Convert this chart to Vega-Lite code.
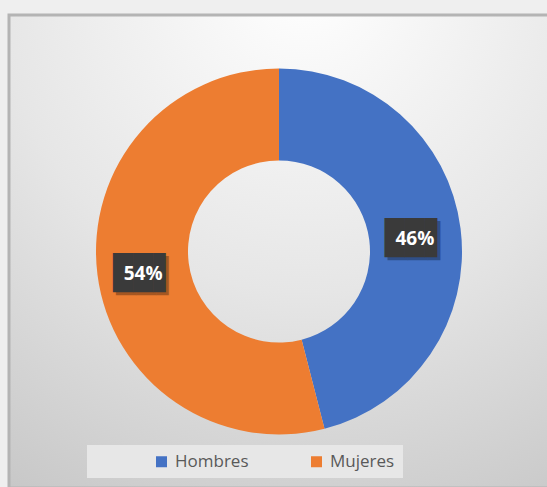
{
  "$schema": "https://vega.github.io/schema/vega-lite/v6.json",
  "width": 540,
  "height": 473,
  "padding": {"left": 9, "top": 15, "right": 0, "bottom": 0},
  "autosize": {"type": "none"},
  "background": "#efefef",
  "view": {
    "fill": {
      "gradient": "radial",
      "x1": 0.55, "y1": 0.0, "r1": 0,
      "x2": 0.55, "y2": 0.0, "r2": 1.15,
      "stops": [
        {"offset": 0, "color": "#ffffff"},
        {"offset": 0.5, "color": "#e6e6e6"},
        {"offset": 1, "color": "#c4c4c4"}
      ]
    },
    "stroke": "#b4b4b4",
    "strokeWidth": 3
  },
  "data": {
    "values": [
      {"sexo": "Hombres", "valor": 0.46},
      {"sexo": "Mujeres", "valor": 0.54}
    ]
  },
  "encoding": {
    "theta": {"field": "valor", "type": "quantitative", "stack": true}
  },
  "layer": [
    {
      "mark": {"type": "arc", "outerRadius": 183, "innerRadius": 91},
      "encoding": {
        "color": {
          "field": "sexo",
          "type": "nominal",
          "scale": {"domain": ["Hombres", "Mujeres"], "range": ["#4472C4", "#ED7D31"]},
          "legend": {
            "orient": "none",
            "legendX": 78,
            "legendY": 430,
            "direction": "horizontal",
            "title": null,
            "fillColor": "#e7e7e7",
            "padding": 8,
            "symbolOffset": 58,
            "symbolType": "square",
            "symbolSize": 121,
            "symbolStrokeWidth": 0,
            "labelFont": "Open Sans",
            "labelFontSize": 17,
            "labelColor": "#595959",
            "labelExpr": "datum.label == 'Mujeres' ? datum.label + '\u00a0\u00a0\u00a0\u00a0\u00a0\u00a0\u00a0\u00a0\u00a0\u00a0\u00a0\u00a0' : datum.label",
            "columnPadding": 1,
            "labelOffset": 5
          }
        }
      }
    },
    {
      "mark": {"type": "text", "radius": 137, "text": "██▋", "font": "DejaVu Sans Mono", "fontSize": 33, "color": "#000000", "opacity": 0.3, "dx": 3, "dy": 8},
      "encoding": {"detail": {"field": "sexo", "type": "nominal"}}
    },
    {
      "mark": {"type": "text", "radius": 137, "text": "██▋", "font": "DejaVu Sans Mono", "fontSize": 33, "color": "#3a3a3a", "dy": 5},
      "encoding": {"detail": {"field": "sexo", "type": "nominal"}}
    },
    {
      "mark": {"type": "text", "radius": 137, "font": "Open Sans", "fontWeight": "bold", "fontSize": 19, "color": "#ffffff", "dy": 5},
      "encoding": {
        "detail": {"field": "sexo", "type": "nominal"},
        "text": {"field": "valor", "type": "quantitative", "format": ".0%"}
      }
    }
  ]
}
